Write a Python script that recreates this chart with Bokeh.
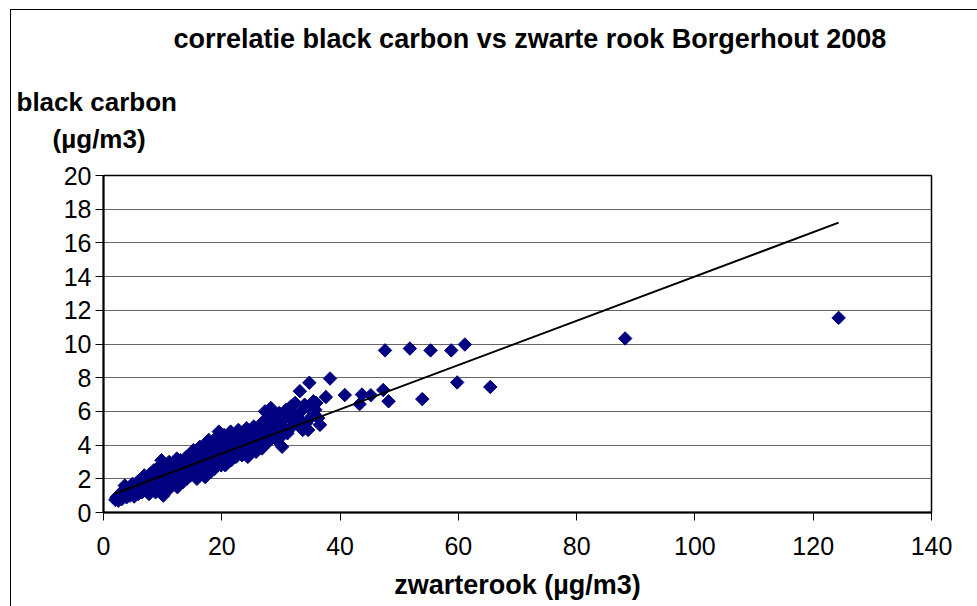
import math
from bokeh.plotting import figure
from bokeh.models import FixedTicker, Title, ColumnDataSource
from bokeh.embed import file_html
from bokeh.resources import INLINE

# ---- data ----
zwarterook = [
    2.0, 2.2, 2.5, 2.6, 2.8, 3.0, 3.1, 3.3, 3.5, 3.6, 3.8, 3.9, 4.0,
    4.2, 4.4, 4.5, 4.7, 4.9, 5.0, 5.2, 5.4, 5.5, 5.7, 5.9, 6.0, 6.2, 6.4, 6.5, 6.7, 6.9, 7.0,
    7.2, 7.3, 7.5, 7.7, 7.9, 8.0, 8.2, 8.3, 8.5, 8.6, 8.8, 9.0, 9.1, 9.3, 9.5, 9.6, 9.8, 10.0, 10.1, 10.3,
    10.4, 10.6, 10.8, 11.0, 11.1, 11.3, 11.5, 11.7, 11.9, 12.0, 12.2, 12.4, 12.5, 12.7, 12.9, 13.0, 13.2, 13.4,
    13.6, 13.8, 14.0, 14.1, 14.3, 14.5, 14.7, 14.9, 15.0, 15.2, 15.4, 15.6, 15.8, 16.0, 16.1, 16.3, 16.5, 16.7, 16.9, 17.0,
    17.2, 17.4, 17.6, 17.8, 17.9, 18.1, 18.3, 18.5, 18.6, 18.8, 19.0, 19.2, 19.3, 19.5, 19.7, 19.9, 20.0,
    20.2, 20.4, 20.6, 20.7, 20.9, 21.1, 21.3, 21.5, 21.6, 21.8, 22.0, 22.2, 22.4, 22.6, 22.8, 23.0, 23.2, 23.4, 23.6, 23.8,
    24.0, 24.2, 24.4, 24.6, 24.8, 25.0, 25.2, 25.4, 25.6, 25.8, 26.0, 26.2, 26.4, 26.6, 26.8, 27.0, 27.2, 27.3, 27.5, 27.7, 27.9,
    28.1, 28.3, 28.5, 28.6, 28.9, 29.1, 29.3, 29.5, 29.7, 30.0, 30.2, 30.4, 30.6, 30.9, 31.1, 31.4, 31.7, 31.9,
    32.2, 32.4, 32.7, 33.0, 33.2, 33.4, 33.7, 34.0, 34.3, 34.6, 34.8, 35.0, 35.2, 35.5, 35.8, 36.0, 36.3, 36.6, 37.6, 38.3,
    40.8, 43.3, 43.7, 45.2, 47.3, 48.2, 47.6, 51.8, 55.3, 58.8, 61.1, 53.9, 59.8, 65.4, 88.2, 124.3,
]
black_carbon = [
    0.75, 0.9, 0.7, 1.0, 0.85, 1.1, 0.8, 1.3, 1.0, 1.6, 1.2, 0.9, 1.4,
    1.1, 1.5, 1.0, 1.3, 1.7, 1.2, 0.95, 1.5, 1.3, 1.8, 1.1, 1.6, 1.4, 1.9, 1.2, 1.7, 2.2, 1.5,
    1.3, 2.0, 1.8, 1.1, 2.3, 1.6, 2.0, 1.4, 2.5, 1.9, 1.2, 2.2, 1.7, 2.7, 2.0, 1.5, 3.1, 2.4, 1.0, 2.8,
    1.8, 2.2, 1.3, 2.6, 3.0, 2.0, 1.6, 2.4, 2.9, 1.9, 2.2, 3.2, 1.5, 2.7, 2.1, 3.1, 2.5, 1.8,
    2.9, 2.3, 3.3, 2.0, 2.7, 3.0, 2.2, 3.5, 2.6, 3.7, 2.4, 3.1, 2.0, 3.4, 2.8, 3.9, 2.3, 3.2, 2.7, 4.0,
    2.1, 3.5, 2.9, 4.3, 3.0, 2.4, 3.7, 3.2, 4.1, 2.6, 3.5, 4.5, 3.0, 4.8, 3.8, 2.8, 4.2,
    3.4, 4.6, 2.8, 3.9, 3.3, 4.4, 3.6, 4.8, 3.1, 4.1, 3.7, 4.5, 3.3, 4.2, 4.9, 3.6, 4.0, 3.4, 4.7, 4.3,
    3.7, 5.0, 3.3, 4.4, 4.0, 4.8, 3.9, 5.1, 4.2, 3.6, 4.6, 5.0, 4.1, 4.9, 3.8, 5.4, 4.5, 6.0, 4.8, 5.6, 4.2,
    5.1, 6.2, 4.6, 5.8, 4.9, 5.4, 4.3, 5.2, 5.9, 4.5, 3.9, 5.5, 5.0, 6.1, 4.7, 5.6, 6.3, 5.1,
    5.8, 6.5, 5.3, 5.6, 7.2, 6.0, 4.9, 6.4, 5.3, 4.9, 7.7, 6.1, 5.7, 6.6, 6.1, 6.5, 5.6, 5.2, 6.85, 7.95,
    6.97, 6.43, 7.0, 6.96, 7.27, 6.6, 9.62, 9.73, 9.62, 9.62, 9.97, 6.73, 7.72, 7.45, 10.33, 11.55,
]
trend_x = [2.0, 124.3]
trend_y = [1.13, 17.2]

x_ticks = [0, 20, 40, 60, 80, 100, 120, 140]
y_ticks = [0, 2, 4, 6, 8, 10, 12, 14, 16, 18, 20]

title_text = "correlatie black carbon vs zwarte rook Borgerhout 2008"
y_label_lines = ["black carbon", "(\u00b5g/m3)"]
x_label_text = "zwarterook (\u00b5g/m3)"

FONT = "Liberation Sans"

p = figure(width=977, height=606, x_range=(0, 140), y_range=(0, 20),
           output_backend="svg", toolbar_location=None,
           min_border_left=103, min_border_right=46,
           min_border_top=175, min_border_bottom=94)
p.background_fill_color = "white"
p.border_fill_color = None
# outer chart-area border (top and left edges), drawn behind the transparent canvas border
p.styles = {
    "background": "linear-gradient(#000,#000) 10px 9px / 1px 100% no-repeat, "
                  "linear-gradient(#000,#000) 10px 9px / 100% 1px no-repeat, #ffffff",
}
p.outline_line_color = "black"
p.outline_line_width = 1.5

p.xgrid.visible = False
p.ygrid.ticker = FixedTicker(ticks=y_ticks)
p.ygrid.grid_line_color = "#666666"
p.ygrid.grid_line_width = 1

for ax, ticks in ((p.xaxis[0], x_ticks), (p.yaxis[0], y_ticks)):
    ax.ticker = FixedTicker(ticks=ticks)
    ax.axis_line_color = "black"
    ax.axis_line_width = 2
    ax.major_tick_line_color = "black"
    ax.major_tick_line_width = 1
    ax.major_tick_in = 0
    ax.major_tick_out = 8
    ax.minor_tick_line_color = None
    ax.major_label_text_font = FONT
    ax.major_label_text_font_size = "25px"
    ax.major_label_text_color = "black"
p.xaxis[0].major_label_standoff = 16
p.yaxis[0].major_label_standoff = 4

p.xaxis[0].axis_label = x_label_text
p.xaxis[0].axis_label_text_font = FONT
p.xaxis[0].axis_label_text_font_style = "bold"
p.xaxis[0].axis_label_text_font_size = "27px"
p.xaxis[0].axis_label_text_color = "black"
p.xaxis[0].axis_label_standoff = 12

src = ColumnDataSource(dict(x=zwarterook, y=black_carbon))
p.scatter("x", "y", source=src, marker="square", angle=math.pi / 4,
          size=9.5, fill_color="#000080", line_color="#000080")

p.line(trend_x, trend_y, line_color="black", line_width=2)

# main title
p.title.text = title_text
p.title.align = "left"
p.title.offset = 70
p.title.text_font = FONT
p.title.text_font_style = "bold"
p.title.text_font_size = "27px"
p.title.text_color = "black"
p.title.standoff = 18

# y-axis title, horizontal, above the plot area (two lines)
ylab = Title(text=y_label_lines[0] + "\n" + "\u00a0" * 5 + y_label_lines[1],
             align="left", offset=-87, standoff=43,
             text_font=FONT, text_font_style="bold", text_font_size="26px",
             text_color="black", text_line_height=1.25)
p.add_layout(ylab, "above")

open("out.html", "w").write(file_html(p, INLINE))
